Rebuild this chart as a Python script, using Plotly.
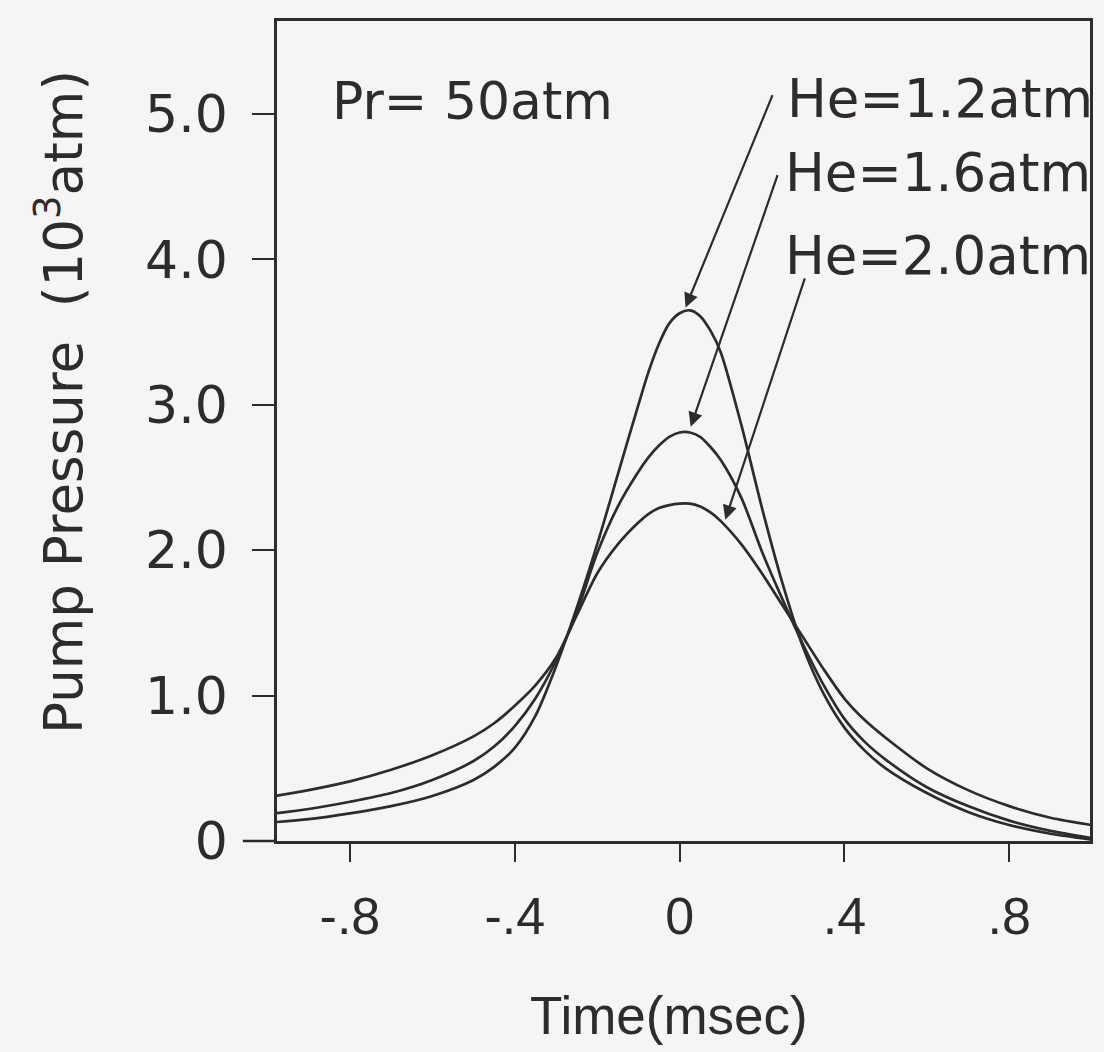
import plotly.graph_objects as go

# Time (msec)
time_ms = [-0.98, -0.9, -0.8, -0.7, -0.6, -0.5, -0.45, -0.4, -0.35, -0.3, -0.25, -0.2,
           -0.15, -0.1, -0.075, -0.05, -0.025, 0.0, 0.025, 0.05, 0.075, 0.1, 0.15,
           0.2, 0.25, 0.3, 0.35, 0.4, 0.45, 0.5, 0.6, 0.7, 0.8, 0.9, 1.0]

# Pump pressure (10^3 atm)
p_he12 = [0.13, 0.15, 0.19, 0.24, 0.31, 0.42, 0.51, 0.64, 0.86, 1.20, 1.60, 2.04,
          2.52, 3.00, 3.23, 3.42, 3.56, 3.63, 3.65, 3.61, 3.51, 3.36, 2.86,
          2.29, 1.77, 1.33, 1.01, 0.78, 0.62, 0.50, 0.33, 0.20, 0.11, 0.05, 0.01]
p_he16 = [0.19, 0.22, 0.27, 0.33, 0.42, 0.55, 0.65, 0.79, 0.98, 1.24, 1.57, 1.98,
          2.30, 2.54, 2.64, 2.72, 2.78, 2.81, 2.81, 2.78, 2.71, 2.62, 2.36,
          1.99, 1.66, 1.35, 1.07, 0.84, 0.68, 0.56, 0.37, 0.24, 0.14, 0.07, 0.02]
p_he20 = [0.31, 0.35, 0.41, 0.49, 0.59, 0.72, 0.81, 0.93, 1.07, 1.26, 1.55, 1.84,
          2.04, 2.19, 2.25, 2.29, 2.31, 2.32, 2.32, 2.30, 2.26, 2.20, 2.04,
          1.84, 1.62, 1.40, 1.18, 0.98, 0.83, 0.71, 0.50, 0.35, 0.24, 0.16, 0.11]

series_names = ["He=1.2atm", "He=1.6atm", "He=2.0atm"]
series_values = [p_he12, p_he16, p_he20]

x_tick_vals = [-0.8, -0.4, 0, 0.4, 0.8]
x_tick_text = ["-.8", "-.4", "0", ".4", ".8"]
y_tick_vals = [0, 1, 2, 3, 4, 5]
y_tick_text = ["0", "1.0", "2.0", "3.0", "4.0", "5.0"]

# label placement (data coords) and arrow tips/tails
label_pos = [(0.256, 5.11), (0.252, 4.60), (0.252, 4.03)]
arrow_tips = [(0.0145, 3.67), (0.027, 2.85), (0.111, 2.21)]
arrow_tails = [(0.227, 5.14), (0.239, 4.59), (0.305, 3.88)]

INK = "#2e2b2d"
BG = "#f6f4f5"

fig = go.Figure()
for name, vals in zip(series_names, series_values):
    fig.add_trace(go.Scatter(x=time_ms, y=vals, mode="lines", name=name,
                             line=dict(color=INK, width=2.7, shape="spline", smoothing=0.8),
                             showlegend=False))

annotations = []
annotations.append(dict(x=-0.849, y=5.09, xref="x", yref="y", text="Pr= 50atm",
                        showarrow=False, xanchor="left", yanchor="middle",
                        font=dict(family="DejaVu Sans", size=52, color=INK)))
for name, (lx, ly) in zip(series_names, label_pos):
    annotations.append(dict(x=lx, y=ly, xref="x", yref="y", text=name,
                            showarrow=False, xanchor="left", yanchor="middle",
                            font=dict(family="DejaVu Sans", size=53, color=INK)))
for (tx, ty), (ax, ay) in zip(arrow_tips, arrow_tails):
    annotations.append(dict(x=tx, y=ty, xref="x", yref="y", ax=ax, ay=ay,
                            axref="x", ayref="y", text="", showarrow=True,
                            arrowhead=2, arrowsize=1.3, arrowwidth=2.2, arrowcolor=INK))
# axis titles
annotations.append(dict(x=-0.267, y=0.5354, xref="paper", yref="paper",
                        text="Pump Pressure  (10<sup>3</sup>atm)", textangle=-90,
                        showarrow=False, xanchor="center", yanchor="middle",
                        font=dict(family="DejaVu Sans", size=53, color=INK)))
annotations.append(dict(x=0.4816, y=-0.2122, xref="paper", yref="paper",
                        text="Time(msec)", showarrow=False,
                        xanchor="center", yanchor="middle",
                        font=dict(family="Liberation Sans", size=53, color=INK)))

fig.update_layout(
    width=1104, height=1052,
    paper_bgcolor=BG, plot_bgcolor=BG,
    margin=dict(l=277, r=11, t=21, b=211),
    annotations=annotations,
    shapes=[dict(type="line", xref="paper", yref="paper", x0=-0.042, x1=0, y0=0, y1=0,
                 line=dict(color=INK, width=2.6))],
    xaxis=dict(range=[-0.977, 0.996], tickvals=x_tick_vals, ticktext=x_tick_text,
               showgrid=False, zeroline=False, showline=True, mirror=True,
               linecolor=INK, linewidth=2.6, ticks="outside", ticklen=18,
               tickwidth=2.4, tickcolor=INK, ticklabelstandoff=10,
               tickfont=dict(family="Liberation Sans", size=52, color=INK)),
    yaxis=dict(range=[0, 5.64], tickvals=y_tick_vals, ticktext=y_tick_text,
               showgrid=False, zeroline=False, showline=True, mirror=True,
               linecolor=INK, linewidth=2.6, ticks="outside", ticklen=22,
               tickwidth=2.4, tickcolor=INK, ticklabelstandoff=14,
               tickfont=dict(family="DejaVu Sans", size=52, color=INK)),
)

fig.write_html("out.html", config={"displayModeBar": False},
               post_script="document.body.style.margin='0';"
                           "document.body.style.background='#f6f4f5';")
